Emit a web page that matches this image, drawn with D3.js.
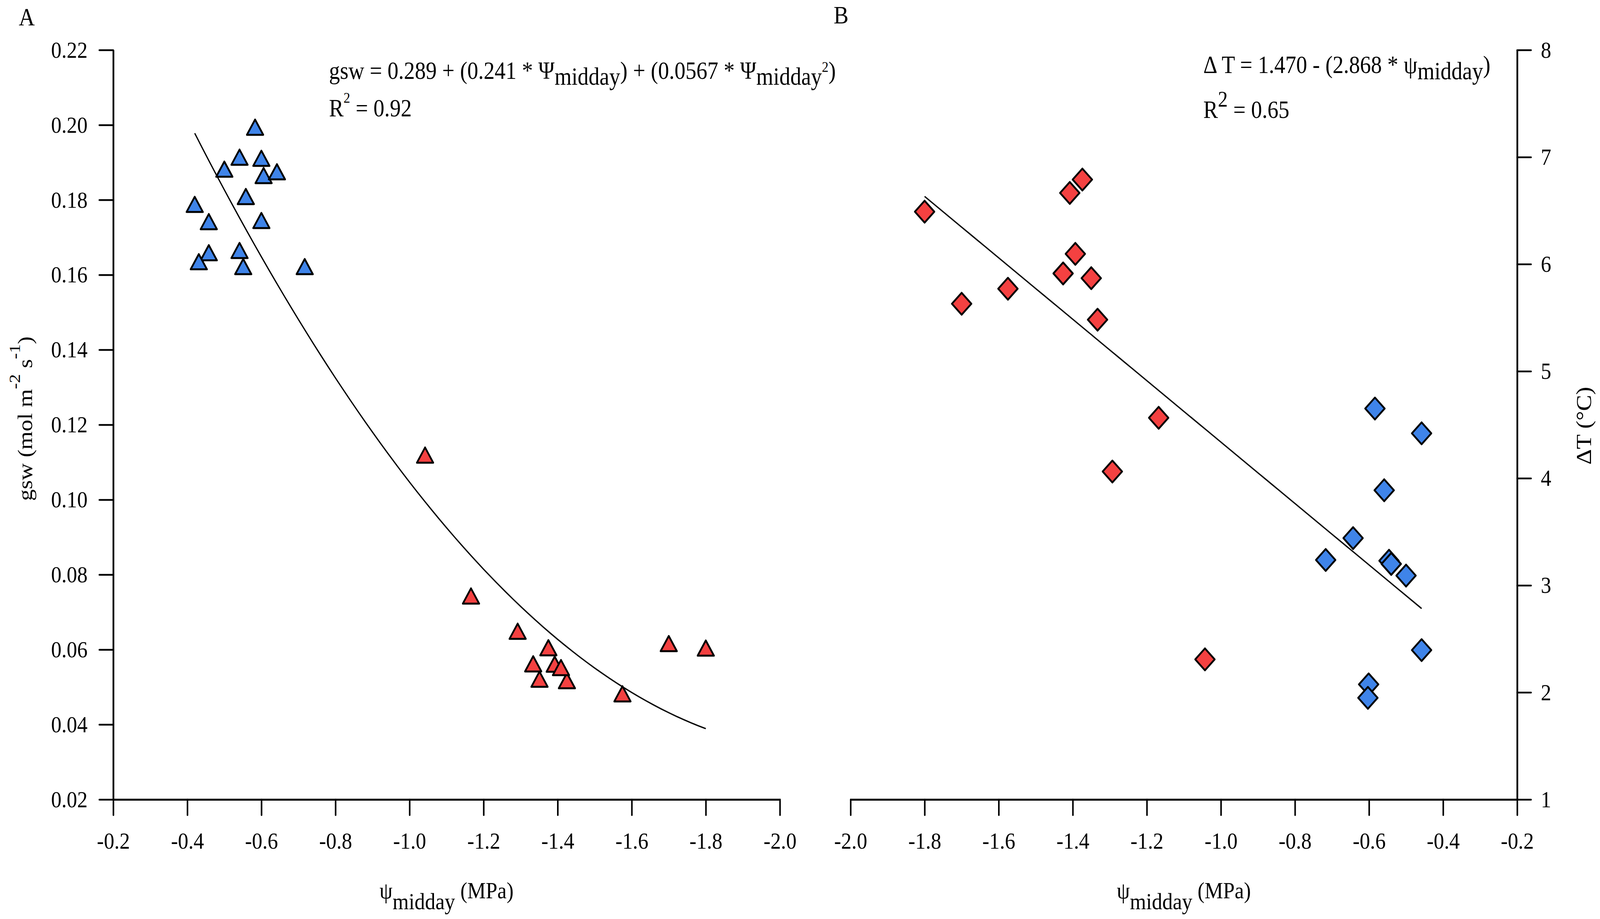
<!DOCTYPE html>
<html>
<head>
<meta charset="utf-8">
<script src="https://cdn.jsdelivr.net/npm/d3@7"></script>
<style>
    html, body { margin: 0; padding: 0; width: 100%; height: 100%; overflow: hidden; background: #ffffff; }
    svg { display: block; width: 100vw; height: 100vh; font-family: "Liberation Serif", "Times New Roman", serif; }
</style>
</head>
<body>
<svg id="chart" viewBox="0 0 4606 2353" preserveAspectRatio="none"></svg>
<script>
// panel A: stomatal conductance vs midday water potential
var psiWetA = [-0.583, -0.541, -0.600, -0.500, -0.606, -0.642, -0.558, -0.420,
    -0.458, -0.600, -0.458, -0.431, -0.541, -0.551, -0.717];
var gswWetA = [0.1994, 0.1914, 0.1911, 0.1882, 0.1865, 0.1875, 0.1809, 0.1788,
    0.1742, 0.1745, 0.1659, 0.1635, 0.1665, 0.1622, 0.1622];
var psiDryA = [-1.042, -1.166, -1.292, -1.375, -1.334, -1.392, -1.425, -1.351,
    -1.409, -1.575, -1.700, -1.800];
var gswDryA = [0.1119, 0.0743, 0.0649, 0.0605, 0.0562, 0.0561, 0.0517, 0.0521,
    0.0552, 0.0482, 0.0616, 0.0604];

// panel B: leaf-air temperature difference vs midday water potential
var psiDryB = [-1.800, -1.700, -1.575, -1.408, -1.374, -1.393, -1.426, -1.350,
    -1.333, -1.168, -1.293, -1.043];
var dtDryB = [6.49, 5.63, 5.77, 6.665, 6.79, 6.096, 5.913, 5.869,
    5.481, 4.565, 4.063, 2.309];
var psiWetB = [-0.584, -0.458, -0.559, -0.643, -0.717, -0.546, -0.540, -0.500,
    -0.458, -0.601, -0.603];
var dtWetB = [4.651, 4.42, 3.888, 3.441, 3.237, 3.23, 3.20, 3.091,
    2.395, 2.075, 1.949];

// fitted models as printed on the figure
var fitA = { coef: [0.289, 0.241, 0.0567], range: [-0.42, -1.80] };
var fitB = { coef: [1.470, -2.868], range: [-1.80, -0.458] };

var psiTicksA = [-0.2, -0.4, -0.6, -0.8, -1.0, -1.2, -1.4, -1.6, -1.8, -2.0];
var gswTicks = [0.02, 0.04, 0.06, 0.08, 0.10, 0.12, 0.14, 0.16, 0.18, 0.20, 0.22];
var psiTicksB = [-2.0, -1.8, -1.6, -1.4, -1.2, -1.0, -0.8, -0.6, -0.4, -0.2];
var dtTicks = [1, 2, 3, 4, 5, 6, 7, 8];

var RED = "#f44141";
var BLUE = "#3f84e9";
var FONT = 60;

var svg = d3.select("#chart");

var xA = d3.scaleLinear().domain([-0.2, -2.0]).range([326, 2245]);
var yA = d3.scaleLinear().domain([0.02, 0.22]).range([2047, 128]);
var xB = d3.scaleLinear().domain([-2.0, -0.2]).range([2448.5, 4367.5]);
var yB = d3.scaleLinear().domain([1, 8]).range([2047, 128]);

function zip(xs, ys) {
    return xs.map(function (x, i) { return { x: x, y: ys[i] }; });
}

function poly(coef, x) {
    return coef.reduce(function (acc, c, i) { return acc + c * Math.pow(x, i); }, 0);
}

function styleAxis(g, textAttrs) {
    g.attr("font-family", null).attr("font-size", FONT);
    g.selectAll("path.domain")
        .attr("stroke", "#000")
        .attr("stroke-width", 5);
    g.selectAll(".tick line")
        .attr("stroke", "#000")
        .attr("stroke-width", 4.5)
        .attr("stroke-linecap", "round");
    g.selectAll(".tick text").attr("fill", "#000");
    if (textAttrs) {
        g.selectAll(".tick text").attr("dy", null).attr("y", textAttrs.y);
    }
}

function drawMarkers(group, data, x, y, shape, color) {
    var path;
    if (shape === "triangle") {
        path = "M0,-19.5L23.5,19.5L-23.5,19.5Z";
    } else {
        path = "M0,-28L28,0L0,28L-28,0Z";
    }
    group.selectAll(null)
        .data(data)
        .enter().append("path")
        .attr("d", path)
        .attr("transform", function (d) {
            return "translate(" + x(d.x) + "," + y(d.y) + ")";
        })
        .attr("fill", color)
        .attr("stroke", "#000")
        .attr("stroke-width", 5)
        .attr("stroke-linejoin", "round");
}

function drawFit(group, fit, x, y) {
    var lo = Math.min(fit.range[0], fit.range[1]);
    var hi = Math.max(fit.range[0], fit.range[1]);
    var xs = d3.ticks(lo, hi, 80);
    xs.unshift(lo);
    xs.push(hi);
    var line = d3.line()
        .x(function (d) { return x(d); })
        .y(function (d) { return y(poly(fit.coef, d)); });
    group.append("path")
        .attr("d", line(xs))
        .attr("fill", "none")
        .attr("stroke", "#000")
        .attr("stroke-width", 3.5);
}

function addText(parent, x, y, parts, size) {
    var t = parent.append("text")
        .attr("x", x)
        .attr("y", y)
        .attr("font-size", size);
    parts.forEach(function (p) {
        var s = t.append("tspan").text(p.t);
        if (p.dy) s.attr("dy", p.dy);
        if (p.size) s.attr("font-size", p.size);
    });
    return t;
}

// ---------- panel A ----------
var panelA = svg.append("g").attr("class", "panel-a");

panelA.append("g")
    .attr("transform", "translate(0,2047)")
    .call(d3.axisBottom(xA).tickValues(psiTicksA).tickSize(40).tickSizeOuter(0)
        .tickFormat(function (d) { return d.toFixed(1); }))
    .call(styleAxis, { y: 126 });

panelA.append("g")
    .attr("transform", "translate(326,0)")
    .call(d3.axisLeft(yA).tickValues(gswTicks).tickSize(40).tickSizeOuter(0)
        .tickPadding(34)
        .tickFormat(function (d) { return d.toFixed(2); }))
    .call(styleAxis);

drawMarkers(panelA, zip(psiWetA, gswWetA), xA, yA, "triangle", BLUE);
drawMarkers(panelA, zip(psiDryA, gswDryA), xA, yA, "triangle", RED);
drawFit(panelA, fitA, xA, yA);

addText(panelA, 54, 65, [{ t: "A" }], 64);

addText(panelA, 947, 202, [
    { t: "gsw = 0.289 + (0.241 * \u03A8" },
    { t: "midday", dy: 15 },
    { t: ") + (0.0567 * \u03A8", dy: -15 },
    { t: "midday", dy: 15 },
    { t: "2", dy: -33, size: 38 },
    { t: ")", dy: 18, size: 63 }
], 63);

addText(panelA, 947, 298, [
    { t: "R" },
    { t: "2", dy: -35, size: 38 },
    { t: " = 0.92", dy: 35, size: 63 }
], 63);

addText(panelA, 1285.5, 2300, [
    { t: "\u03C8" },
    { t: "midday", dy: 28 },
    { t: " (MPa)", dy: -28 }
], FONT).attr("text-anchor", "middle");

addText(panelA, 0, 0, [
    { t: "gsw (mol m" },
    { t: "-2", dy: -35, size: 46 },
    { t: " s", dy: 35, size: FONT },
    { t: "-1", dy: -35, size: 46 },
    { t: ")", dy: 35, size: FONT }
], FONT)
    .attr("text-anchor", "middle")
    .attr("transform", "translate(92,1072) rotate(-90)");

// ---------- panel B ----------
var panelB = svg.append("g").attr("class", "panel-b");

panelB.append("g")
    .attr("transform", "translate(0,2047)")
    .call(d3.axisBottom(xB).tickValues(psiTicksB).tickSize(40).tickSizeOuter(0)
        .tickFormat(function (d) { return d.toFixed(1); }))
    .call(styleAxis, { y: 126 });

panelB.append("g")
    .attr("transform", "translate(4367.5,0)")
    .call(d3.axisRight(yB).tickValues(dtTicks).tickSize(40).tickSizeOuter(0)
        .tickPadding(28)
        .tickFormat(d3.format("d")))
    .call(styleAxis);

drawMarkers(panelB, zip(psiDryB, dtDryB), xB, yB, "diamond", RED);
drawMarkers(panelB, zip(psiWetB, dtWetB), xB, yB, "diamond", BLUE);
drawFit(panelB, fitB, xB, yB);

addText(panelB, 2400, 60, [{ t: "B" }], 64);

addText(panelB, 3464, 187, [
    { t: "\u0394 T = 1.470 - (2.868 * \u03C8" },
    { t: "midday", dy: 16 },
    { t: ")", dy: -16 }
], 63);

addText(panelB, 3464, 302, [
    { t: "R" },
    { t: "2", dy: -29, size: 57 },
    { t: " = 0.65", dy: 29, size: 63 }
], 63);

addText(panelB, 3408, 2300, [
    { t: "\u03C8" },
    { t: "midday", dy: 28 },
    { t: " (MPa)", dy: -28 }
], FONT).attr("text-anchor", "middle");

addText(panelB, 0, 0, [{ t: "\u0394T (\u00B0C)" }], 62)
    .attr("text-anchor", "middle")
    .attr("transform", "translate(4580,1090) rotate(-90)");
</script>
</body>
</html>
